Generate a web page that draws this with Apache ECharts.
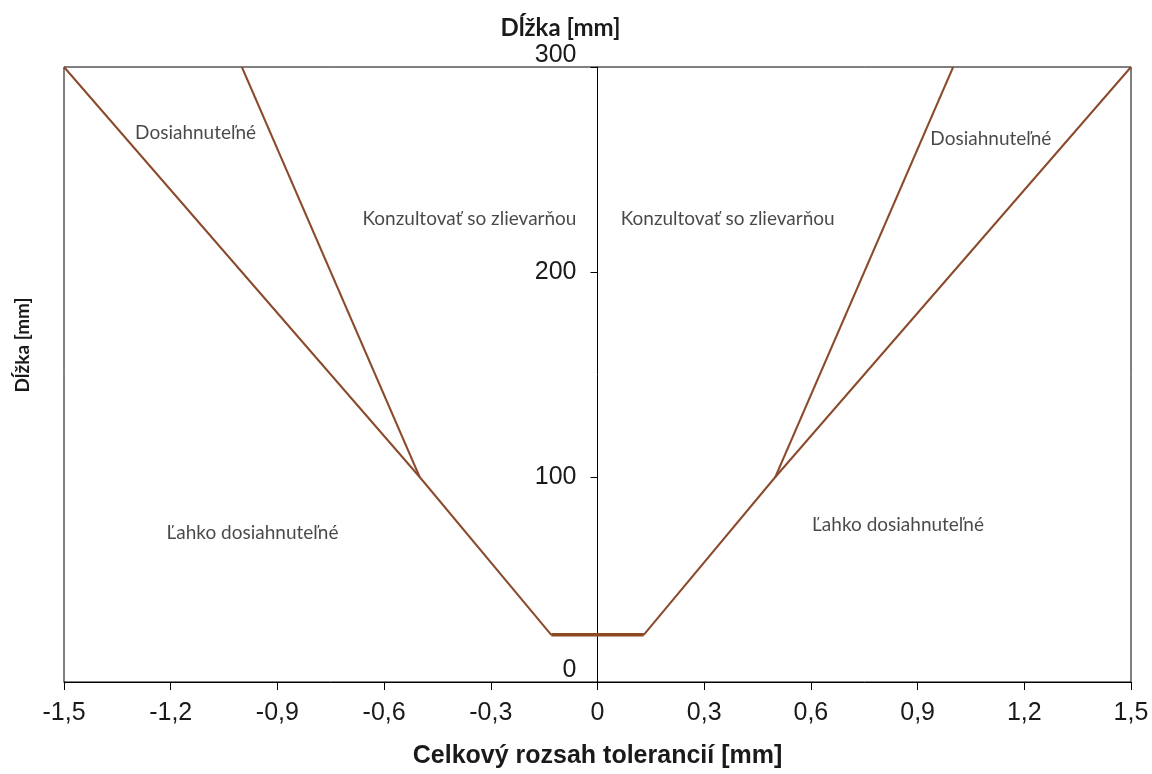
<!DOCTYPE html>
<html>
<head>
<meta charset="utf-8">
<script src="https://cdn.jsdelivr.net/npm/echarts@6/dist/echarts.min.js"></script>
<style>
  html, body { margin: 0; padding: 0; background: #fff; }
  #chart { width: 1152px; height: 774px; }
</style>
</head>
<body>
<div id="chart"></div>
<script>
// X axis ticks (tolerance range, mm)
const xTicks = [-1.5, -1.2, -0.9, -0.6, -0.3, 0, 0.3, 0.6, 0.9, 1.2, 1.5];
// Y axis ticks (length, mm)
const yTicks = [0, 100, 200, 300];

// Boundary lines [tolerance, length]
const outerLeft = [[-1.5, 300], [-0.5, 100], [-0.13, 23]];
const bottomSegment = [[-0.13, 23], [0.13, 23]];
const outerRight = [[0.13, 23], [0.5, 100], [1.5, 300]];
const innerLeft = [[-1.0, 300], [-0.5, 100]];
const innerRight = [[0.5, 100], [1.0, 300]];

// Region annotations
const regionNames = ['Dosiahnuteľné', 'Konzultovať so zlievarňou', 'Konzultovať so zlievarňou', 'Dosiahnuteľné', 'Ľahko dosiahnuteľné', 'Ľahko dosiahnuteľné'];
const regionX = [-1.13, -0.36, 0.366, 1.106, -0.97, 0.845];
const regionY = [268, 226, 226, 265, 72.7, 76.6];

const lineColor = '#8a4a2c';
const textColor = '#1a1a1a';

const chart = echarts.init(document.getElementById('chart'));

function lineSeries(data, width, color) {
  return {
    type: 'line',
    data: data,
    symbol: 'none',
    silent: true,
    animation: false,
    lineStyle: { color: color || lineColor, width: width }
  };
}

const gridLeft = 64, gridRight = 21;
const plotWidth = 1152 - gridLeft - gridRight;
const zeroOffset = -plotWidth * (0 - xTicks[0]) / (xTicks[xTicks.length - 1] - xTicks[0]);

const option = {
  backgroundColor: '#fff',
  animation: false,
  grid: {
    left: gridLeft, right: gridRight, top: 67, bottom: 92,
    show: true, borderColor: '#000', borderWidth: 1,
    containLabel: false
  },
  graphic: [{
    type: 'text',
    rotation: Math.PI / 2,
    x: 23, y: 345,
    style: {
      text: 'Dĺžka [mm]',
      fontFamily: 'Lato, sans-serif', fontWeight: 'bold', fontSize: 19,
      fill: textColor,
      textAlign: 'center', textVerticalAlign: 'middle'
    }
  }],
  xAxis: {
    type: 'value',
    min: xTicks[0], max: xTicks[xTicks.length - 1], interval: 0.3,
    name: 'Celkový rozsah tolerancií [mm]',
    nameLocation: 'middle',
    nameGap: 62,
    nameTextStyle: { fontFamily: 'Liberation Sans, Arial, sans-serif', fontWeight: 'bold', fontSize: 25, color: textColor },
    axisLine: { show: true, lineStyle: { color: '#000', width: 1 } },
    axisTick: { show: true, length: 8, lineStyle: { color: '#000' } },
    axisLabel: {
      margin: 19,
      fontFamily: 'Liberation Sans, Arial, sans-serif', fontSize: 25, color: textColor,
      formatter: v => {
        const t = xTicks.find(k => Math.abs(k - v) < 1e-6);
        const val = t === undefined ? v : t;
        return (Math.abs(val) < 1e-9 ? '0' : val.toFixed(1)).replace('.', ',');
      }
    },
    splitLine: { show: false }
  },
  yAxis: {
    type: 'value',
    position: 'left',
    offset: zeroOffset,
    min: yTicks[0], max: yTicks[yTicks.length - 1], interval: 100,
    name: 'Dĺžka [mm]',
    nameLocation: 'end',
    nameGap: 27,
    nameTextStyle: { fontFamily: 'Lato, sans-serif', fontWeight: 'bold', fontSize: 24, color: textColor, padding: [0, 74, 0, 0] },
    axisLine: { show: true, onZero: false, lineStyle: { color: '#000', width: 1 } },
    axisTick: { show: true, length: 7, lineStyle: { color: '#000' } },
    axisLabel: {
      margin: 21,
      fontFamily: 'Liberation Sans, Arial, sans-serif', fontSize: 25, color: textColor,
      formatter: v => (v === yTicks[0] || v === yTicks[yTicks.length - 1]) ? '{up|' + v + '}' : '{n|' + v + '}',
      rich: {
        up: { fontFamily: 'Liberation Sans, Arial, sans-serif', fontSize: 25, color: textColor, padding: [0, 0, 24, 0] },
        n: { fontFamily: 'Liberation Sans, Arial, sans-serif', fontSize: 25, color: textColor }
      }
    },
    splitLine: { show: false }
  },
  series: [
    lineSeries(outerLeft, 2),
    lineSeries(outerRight, 2),
    lineSeries(innerLeft, 2),
    lineSeries(innerRight, 2),
    lineSeries(bottomSegment, 3.5, '#8b4a22'),
    {
      type: 'scatter',
      symbolSize: 0,
      silent: true,
      data: regionNames.map((n, i) => ({ value: [regionX[i], regionY[i]], name: n })),
      label: {
        show: true,
        position: 'inside',
        formatter: p => p.name,
        fontFamily: 'Lato, sans-serif',
        fontSize: 19,
        color: textColor
      }
    }
  ]
};

chart.setOption(option);
</script>
</body>
</html>
